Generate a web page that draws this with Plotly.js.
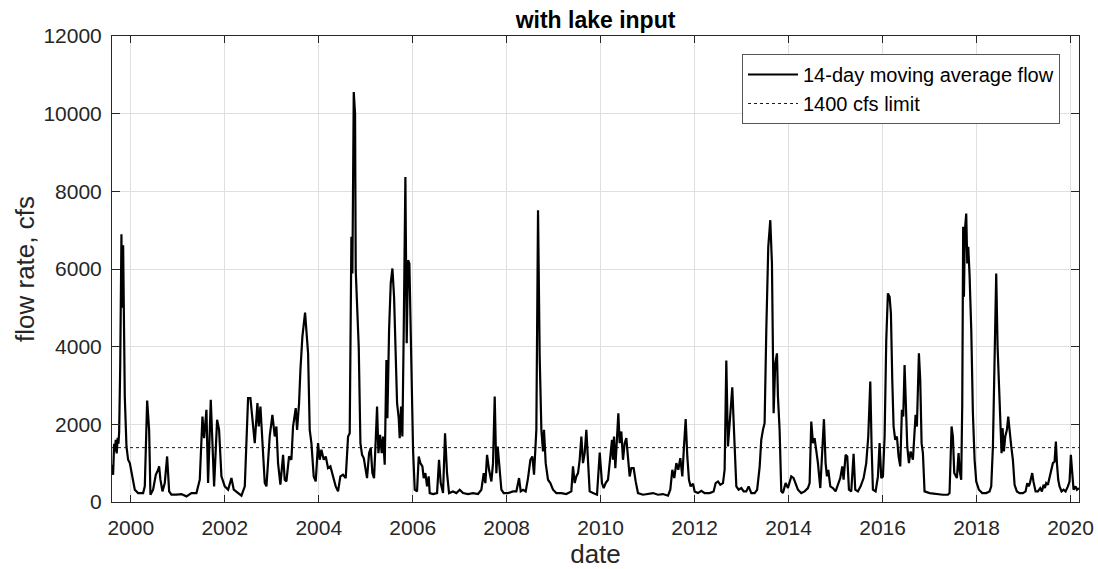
<!DOCTYPE html>
<html>
<head>
<meta charset="utf-8">
<script src="https://cdn.plot.ly/plotly-3.0.1.min.js"></script>
<style>
  html, body { margin: 0; padding: 0; background: #fff; }
  #chart { width: 1098px; height: 569px; }
</style>
</head>
<body>
<div id="chart"></div>
<script>
// dates as decimal years, flow in cfs (14-day moving average)
const dates = [
  1999.603,1999.624,1999.645,1999.660,1999.680,1999.700,1999.720,1999.737,1999.752,1999.775,
  1999.801,1999.815,1999.837,1999.872,1999.908,1999.943,1999.979,2000.014,2000.050,2000.085,
  2000.156,2000.262,2000.298,2000.330,2000.348,2000.390,2000.418,2000.475,2000.532,2000.582,
  2000.603,2000.631,2000.674,2000.723,2000.773,2000.816,2000.865,2000.972,2001.078,2001.184,
  2001.291,2001.397,2001.468,2001.525,2001.560,2001.610,2001.645,2001.702,2001.773,2001.837,
  2001.879,2001.929,2002.000,2002.071,2002.142,2002.191,2002.284,2002.355,2002.426,2002.496,
  2002.546,2002.589,2002.638,2002.695,2002.723,2002.759,2002.801,2002.851,2002.887,2002.957,
  2003.014,2003.064,2003.099,2003.134,2003.184,2003.241,2003.276,2003.312,2003.368,2003.418,
  2003.453,2003.510,2003.539,2003.581,2003.610,2003.652,2003.709,2003.751,2003.773,2003.808,
  2003.844,2003.893,2003.936,2003.985,2004.021,2004.056,2004.106,2004.149,2004.198,2004.248,
  2004.305,2004.361,2004.411,2004.460,2004.517,2004.574,2004.624,2004.659,2004.695,2004.716,
  2004.745,2004.773,2004.787,2004.816,2004.851,2004.887,2004.922,2004.958,2005.000,2005.028,
  2005.071,2005.106,2005.142,2005.177,2005.213,2005.241,2005.270,2005.305,2005.340,2005.369,
  2005.404,2005.440,2005.461,2005.497,2005.532,2005.568,2005.603,2005.631,2005.667,2005.702,
  2005.723,2005.752,2005.780,2005.809,2005.844,2005.872,2005.901,2005.929,2005.965,2006.007,
  2006.043,2006.092,2006.128,2006.163,2006.206,2006.234,2006.270,2006.305,2006.340,2006.362,
  2006.433,2006.518,2006.560,2006.596,2006.645,2006.688,2006.730,2006.773,2006.858,2006.929,
  2007.000,2007.071,2007.177,2007.284,2007.390,2007.461,2007.511,2007.546,2007.582,2007.624,
  2007.674,2007.709,2007.745,2007.780,2007.809,2007.837,2007.887,2007.936,2008.029,2008.135,
  2008.206,2008.263,2008.298,2008.348,2008.404,2008.454,2008.504,2008.546,2008.582,2008.631,
  2008.667,2008.702,2008.738,2008.773,2008.794,2008.830,2008.879,2008.929,2008.986,2009.057,
  2009.163,2009.269,2009.376,2009.411,2009.447,2009.482,2009.518,2009.553,2009.589,2009.624,
  2009.660,2009.695,2009.731,2009.766,2009.837,2009.922,2009.980,2010.028,2010.064,2010.106,
  2010.156,2010.206,2010.241,2010.262,2010.284,2010.312,2010.348,2010.376,2010.404,2010.440,
  2010.475,2010.511,2010.546,2010.582,2010.617,2010.653,2010.702,2010.745,2010.794,2010.901,
  2011.007,2011.113,2011.220,2011.326,2011.433,2011.482,2011.525,2011.567,2011.610,2011.652,
  2011.695,2011.738,2011.773,2011.809,2011.844,2011.879,2011.915,2011.965,2012.000,2012.071,
  2012.142,2012.213,2012.319,2012.404,2012.447,2012.496,2012.546,2012.603,2012.638,2012.674,
  2012.709,2012.759,2012.801,2012.837,2012.887,2012.936,2012.993,2013.043,2013.099,2013.149,
  2013.206,2013.277,2013.330,2013.383,2013.418,2013.454,2013.489,2013.525,2013.567,2013.610,
  2013.645,2013.681,2013.716,2013.752,2013.773,2013.808,2013.844,2013.879,2013.936,2013.986,
  2014.021,2014.057,2014.106,2014.149,2014.198,2014.269,2014.340,2014.411,2014.447,2014.482,
  2014.518,2014.553,2014.589,2014.624,2014.674,2014.716,2014.752,2014.787,2014.816,2014.844,
  2014.887,2014.943,2015.000,2015.050,2015.099,2015.142,2015.170,2015.213,2015.248,2015.284,
  2015.333,2015.383,2015.418,2015.475,2015.532,2015.596,2015.652,2015.695,2015.738,2015.766,
  2015.794,2015.851,2015.901,2015.936,2015.972,2016.007,2016.043,2016.078,2016.113,2016.149,
  2016.177,2016.206,2016.234,2016.269,2016.305,2016.340,2016.376,2016.411,2016.440,2016.468,
  2016.496,2016.525,2016.560,2016.596,2016.645,2016.681,2016.702,2016.730,2016.773,2016.801,
  2016.830,2016.858,2016.893,2017.000,2017.142,2017.284,2017.390,2017.425,2017.468,2017.496,
  2017.525,2017.553,2017.581,2017.617,2017.638,2017.673,2017.695,2017.715,2017.731,2017.752,
  2017.780,2017.802,2017.823,2017.851,2017.887,2017.922,2017.958,2017.993,2018.050,2018.121,
  2018.206,2018.277,2018.312,2018.348,2018.390,2018.418,2018.447,2018.475,2018.504,2018.532,
  2018.553,2018.582,2018.610,2018.646,2018.674,2018.702,2018.738,2018.773,2018.809,2018.858,
  2018.915,2018.986,2019.043,2019.078,2019.110,2019.135,2019.185,2019.210,2019.256,2019.305,
  2019.355,2019.390,2019.426,2019.454,2019.482,2019.518,2019.553,2019.589,2019.624,2019.660,
  2019.688,2019.710,2019.738,2019.766,2019.809,2019.851,2019.894,2019.944,2019.979,2020.007,
  2020.036,2020.064,2020.106,2020.135,2020.177
];
const flow = [
  959,700,1500,1300,1600,1250,1650,1500,1800,3500,
  6897,5000,6614,2715,1430,1087,1003,745,488,317,
  231,231,403,1800,2612,1859,188,317,702,831,
  916,574,274,488,1173,274,188,188,205,145,
  231,231,574,2201,1644,2373,488,2630,403,2116,
  1859,659,403,317,617,317,231,162,403,2673,
  2673,2201,1516,2545,1945,2459,1516,488,403,1700,
  2244,1687,1944,1002,445,1216,573,530,1173,1088,
  1944,2416,1859,2544,3401,4258,4875,4044,3829,1859,
  1516,659,530,1516,1088,1345,1088,1173,873,916,
  659,402,273,659,702,616,1687,1773,6828,5886,
  10556,9999,5971,5114,4000,1515,1215,1130,744,616,
  1258,1387,744,616,1601,2458,1258,1730,1258,1687,
  959,3658,2158,4429,5629,6014,5286,4000,2544,2158,
  1644,2458,1687,4429,8371,4086,6228,6143,3915,1344,
  316,273,1173,1001,916,616,744,401,659,230,
  205,230,1087,487,230,1772,744,230,273,230,
  316,230,205,230,205,316,744,487,1215,830,
  530,1001,2715,744,1430,1001,316,230,230,273,
  273,616,273,316,273,616,1087,1173,702,1858,
  7514,3743,1858,1301,1858,1001,573,487,316,230,
  230,205,273,916,487,659,744,1087,1687,1001,
  1258,1858,1001,273,230,187,1270,487,359,487,
  573,1173,1601,1087,1687,873,1858,2287,1516,1816,
  1087,1516,1644,1002,659,873,873,530,230,187,
  205,230,187,205,162,316,830,616,1002,830,
  1130,659,1430,2133,1173,573,402,470,273,230,
  290,230,230,273,487,530,445,487,830,3641,
  1430,2201,2955,1858,402,316,359,273,273,402,
  230,230,316,900,1601,1858,2030,4429,6571,7257,
  6143,2287,3572,3829,2715,1858,273,230,487,359,
  487,659,616,487,316,230,273,359,487,2073,
  1516,1644,1302,1002,359,1516,2133,1002,659,830,
  402,359,273,445,616,916,573,1216,1173,316,
  273,1242,316,273,402,616,1002,1687,3101,1430,
  316,273,659,1516,616,659,1687,4172,5372,5286,
  4858,3144,1944,1601,1687,1173,916,2373,2201,3530,
  2373,1430,1002,1300,1087,1900,2244,1944,3830,3144,
  1516,1259,273,230,205,187,187,230,1944,1687,
  745,659,616,1259,830,573,2500,7085,5286,7000,
  7428,6143,6571,5843,4429,2287,1087,530,316,230,
  230,273,402,1430,4857,5886,4000,3144,2287,1258,
  1901,1301,1687,1858,2201,1772,1430,1087,444,273,
  230,230,273,487,402,487,744,530,273,273,
  359,273,444,359,487,444,659,830,1001,1044,
  1558,1001,573,402,273,316,273,402,530,1215,
  830,316,402,316,359
];
const FLOW_LIMIT = 1400;
const limitX = [1999.6, 2020.18];
const limitY = [FLOW_LIMIT, FLOW_LIMIT];
const xTicks = [2000,2002,2004,2006,2008,2010,2012,2014,2016,2018,2020];
const xTickLabels = ['2000','2002','2004','2006','2008','2010','2012','2014','2016','2018','2020'];
const yTicks = [0,2000,4000,6000,8000,10000,12000];
const yTickLabels = ['0','2000','4000','6000','8000','10000','12000'];

const FONT = 'Liberation Sans, Arial, Helvetica, sans-serif';
const TXT = '#262626';

const traces = [
  {
    x: dates, y: flow, type: 'scatter', mode: 'lines',
    name: '14-day moving average flow',
    line: {color: '#000000', width: 2.2}
  },
  {
    x: limitX, y: limitY, type: 'scatter', mode: 'lines',
    name: '1400 cfs limit',
    line: {color: '#000000', width: 0.9, dash: 'dot'}
  }
];

const layout = {
  width: 1098, height: 569,
  paper_bgcolor: '#ffffff', plot_bgcolor: '#ffffff',
  margin: {l: 112, r: 19, t: 36, b: 67},
  font: {family: FONT, color: TXT, size: 21},
  title: {
    text: '<b>with lake input</b>',
    font: {family: FONT, size: 23, color: '#000000'},
    x: 0.5, xref: 'paper', xanchor: 'center',
    y: 1 - 20/569, yref: 'container', yanchor: 'middle'
  },
  xaxis: {
    range: [1999.6, 2020.18],
    tickvals: xTicks, ticktext: xTickLabels,
    ticks: 'inside', ticklen: 7, tickcolor: TXT, tickwidth: 1,
    showline: true, linecolor: TXT, linewidth: 1, mirror: 'ticks',
    showgrid: true, gridcolor: '#dfdfdf', gridwidth: 1,
    zeroline: false,
    tickfont: {family: FONT, size: 21, color: TXT},
    ticklabelstandoff: 7,
    title: {text: 'date', font: {family: FONT, size: 26, color: TXT}, standoff: 0}
  },
  yaxis: {
    range: [0, 12000],
    tickvals: yTicks, ticktext: yTickLabels,
    ticks: 'inside', ticklen: 8, tickcolor: TXT, tickwidth: 1,
    showline: true, linecolor: TXT, linewidth: 1, mirror: 'ticks',
    showgrid: true, gridcolor: '#dfdfdf', gridwidth: 1,
    zeroline: false,
    tickfont: {family: FONT, size: 21, color: TXT},
    ticklabelstandoff: 5,
    title: {text: 'flow rate, cfs', font: {family: FONT, size: 26, color: TXT}, standoff: 1}
  },
  legend: {
    x: 0.6515, y: 0.9614, xanchor: 'left', yanchor: 'top',
    bgcolor: '#ffffff', bordercolor: '#555555', borderwidth: 1,
    font: {family: FONT, size: 20, color: '#000000'},
    tracegroupgap: 0, itemwidth: 50
  },
  showlegend: true
};

Plotly.newPlot('chart', traces, layout, {displayModeBar: false, staticPlot: true});
</script>
</body>
</html>
